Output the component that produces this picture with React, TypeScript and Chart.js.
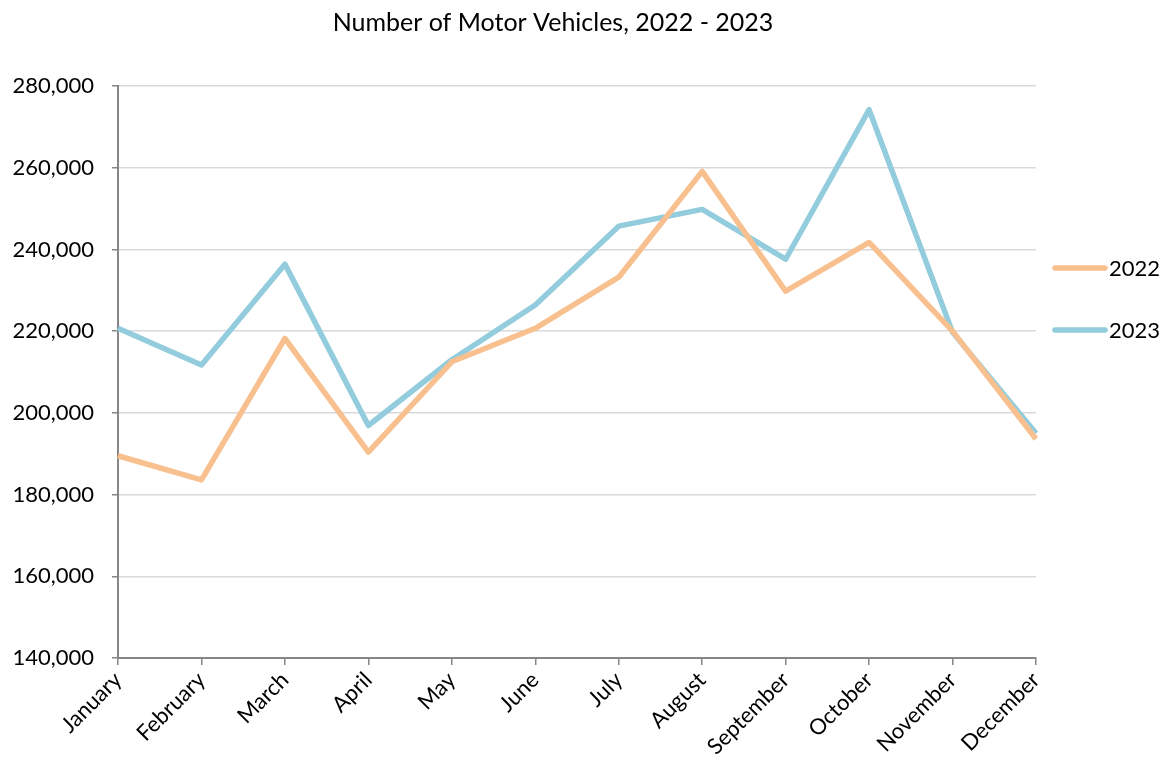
import React, { useEffect, useRef } from "react";
import { Chart, registerables } from "chart.js";

Chart.register(...registerables);

const months = [
  "January", "February", "March", "April", "May", "June",
  "July", "August", "September", "October", "November", "December",
];
const series2022 = [189500, 183600, 218200, 190400, 212500, 220700, 233200, 259100, 229800, 241700, 220000, 193600];
const series2023 = [220700, 211700, 236400, 196900, 213000, 226400, 245700, 249800, 237600, 274200, 219700, 195000];
const seriesNames = ["2022", "2023"];
const yTicks = [140000, 160000, 180000, 200000, 220000, 240000, 260000, 280000];
const titleText = "Number of Motor Vehicles, 2022 - 2023";

const FONT = "Lato, 'Noto Sans', sans-serif";
const ORANGE = "#F9C08F";
const BLUE = "#93CDDD";

const decorPlugin = {
  id: "decor",
  afterDraw(chart: any) {
    const ctx = chart.ctx;
    const area = chart.chartArea;
    ctx.save();
    // title
    ctx.fillStyle = "#000";
    ctx.font = `25px ${FONT}`;
    ctx.textAlign = "center";
    ctx.textBaseline = "middle";
    ctx.fillText(titleText, 545, 15);
    // legend
    const x0 = area.right + 19;
    const ys = [260, 322];
    chart.data.datasets.forEach((ds: any, i: number) => {
      const y = ys[i];
      ctx.strokeStyle = ds.borderColor;
      ctx.lineWidth = 5.5;
      ctx.lineCap = "round";
      ctx.beginPath();
      ctx.moveTo(x0, y);
      ctx.lineTo(x0 + 50, y);
      ctx.stroke();
      ctx.fillStyle = "#000";
      ctx.font = `22px ${FONT}`;
      ctx.textBaseline = "middle";
      ctx.textAlign = "left";
      ctx.fillText(ds.label, x0 + 54, y + 1);
    });
    ctx.restore();
  },
};

export default function App() {
  const ref = useRef<HTMLCanvasElement | null>(null);
  useEffect(() => {
    if (!ref.current) return;
    const chart = new Chart(ref.current, {
      type: "line",
      data: {
        labels: months,
        datasets: [
          { label: seriesNames[0], data: series2022, borderColor: ORANGE, backgroundColor: ORANGE, borderWidth: 5.5, pointRadius: 0, tension: 0, borderJoinStyle: "round" as any },
          { label: seriesNames[1], data: series2023, borderColor: BLUE, backgroundColor: BLUE, borderWidth: 5.5, pointRadius: 0, tension: 0, borderJoinStyle: "round" as any },
        ],
      },
      plugins: [decorPlugin],
      options: {
        animation: false,
        responsive: false,
        layout: { padding: { right: 125, top: 78, left: 0, bottom: 0 } },
        plugins: {
          legend: { display: false },
          tooltip: { enabled: false },
          title: { display: false },
        },
        scales: {
          x: {
            grid: { display: true, drawOnChartArea: false, drawTicks: true, tickLength: 7, tickColor: "#868686", lineWidth: 1.5 },
            border: { color: "#868686", width: 2 },
            ticks: { color: "#000", font: { family: FONT, size: 22 }, maxRotation: 45, minRotation: 45, autoSkip: false, padding: 2 },
            afterFit: (s: any) => { s.height = 105; },
          },
          y: {
            min: 140000,
            max: 280000,
            afterBuildTicks: (s: any) => { s.ticks = yTicks.map((v) => ({ value: v })); },
            grid: { color: "#D9D9D9", lineWidth: 1.5, drawTicks: true, tickLength: 6, tickColor: "#868686" },
            border: { color: "#868686", width: 2 },
            ticks: {
              color: "#000",
              font: { family: FONT, size: 22 },
              padding: 18,
              callback: (v: any) => Number(v).toLocaleString("en-US"),
            },
            afterFit: (s: any) => { s.width = 110; },
          },
        },
      },
    });
    return () => chart.destroy();
  }, []);
  return (
    <div style={{ width: 1153, height: 755 }}>
      <canvas ref={ref} width={1153} height={755} style={{ display: "block" }} />
    </div>
  );
}
